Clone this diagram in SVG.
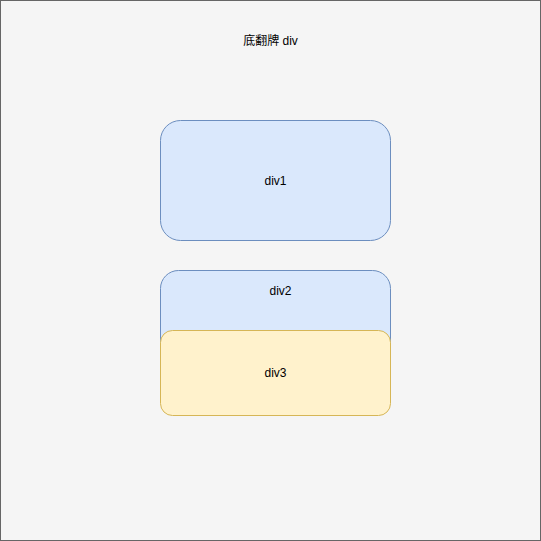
<svg xmlns="http://www.w3.org/2000/svg" width="541" height="541" viewBox="0 0 541 541">
<style>
text{font-family:"Helvetica","Liberation Sans","Noto Sans CJK SC",sans-serif;font-size:12px;fill:#000;text-anchor:middle;dominant-baseline:central}
.blue{fill:#dae8fc;stroke:#6c8ebf;stroke-width:1}
.yellow{fill:#fff2cc;stroke:#d6b656;stroke-width:1}
</style>
<g id="background"><rect x="0.5" y="0.5" width="540" height="540" fill="#f5f5f5" stroke="#666666"/></g>
<g id="title"><text x="270.5" y="41">底翻牌 div</text></g>
<g id="div1"><rect class="blue" x="160.5" y="120.5" width="230" height="120" rx="20"/><text x="275.5" y="180.5">div1</text></g>
<g id="div2"><rect class="blue" x="160.5" y="270.5" width="230" height="90" rx="18"/><text x="280.5" y="291">div2</text></g>
<g id="div3"><rect class="yellow" x="160.5" y="330.5" width="230" height="85" rx="12"/><text x="275.5" y="373">div3</text></g>
<g id="connectors"/>
</svg>
